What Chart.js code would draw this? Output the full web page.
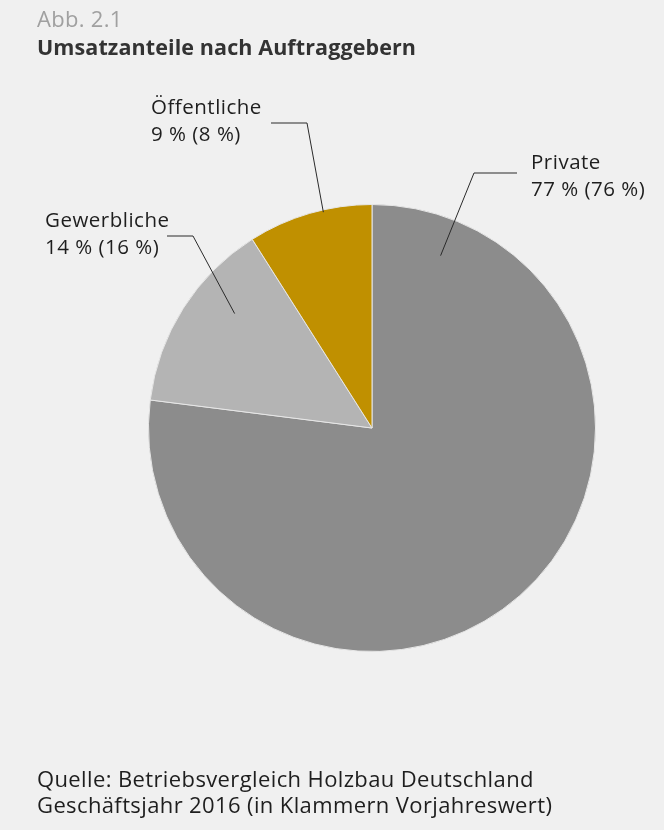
<!DOCTYPE html>
<html lang="de">
<head>
<meta charset="utf-8">
<script src="https://cdn.jsdelivr.net/npm/chart.js@4/dist/chart.umd.min.js"></script>
<style>
  html, body { margin: 0; padding: 0; background: #f0f0f0; }
  #wrap { width: 664px; height: 830px; overflow: hidden; }
</style>
</head>
<body>
<div id="wrap"><canvas id="pie" width="664" height="830"></canvas></div>
<script>
const categories = ['Private', 'Gewerbliche', 'Öffentliche'];
const shares2016 = [77, 14, 9];
const sharesPrev = [76, 16, 8];
const sliceColors = ['#8c8c8c', '#b4b4b4', '#c09000'];

const figureNo = 'Abb. 2.1';
const figureTitle = 'Umsatzanteile nach Auftraggebern';
const sourceLines = [
  'Quelle: Betriebsvergleich Holzbau Deutschland',
  'Geschäftsjahr 2016 (in Klammern Vorjahreswert)'
];

const FONT = "'Open Sans', sans-serif";

// leader lines: anchor on the slice (angle clockwise from 12 o'clock, fraction of radius),
// then elbow / line end / text baseline as offsets from the pie centre
const callouts = [
  { angle: 21.7,  frac: 0.83, elbow: [102, -255], end: [145, -255], text: [159, -259] },
  { angle: 309.8, frac: 0.80, elbow: [-179, -192], end: [-205, -192], text: [-327, -201] },
  { angle: 347.3, frac: 0.99, elbow: [-65, -305], end: [-101, -305], text: [-221, -314] }
];

function drawText(ctx, str, x, y, font, color, spacing) {
  ctx.font = font;
  ctx.fillStyle = color;
  ctx.letterSpacing = (spacing || 0) + 'px';
  ctx.fillText(str, x, y);
}

// heading and source note around the pie
const frameText = {
  id: 'frameText',
  afterDraw(chart) {
    const ctx = chart.ctx;
    ctx.save();
    ctx.textAlign = 'left';
    ctx.textBaseline = 'alphabetic';
    drawText(ctx, figureNo, 37, 27, '22px ' + FONT, '#a0a0a0', 0.3);
    drawText(ctx, figureTitle, 37, 55, 'bold 21.5px ' + FONT, '#333333', 0.1);
    sourceLines.forEach((line, i) => {
      drawText(ctx, line, 37, 787 + i * 26, '22px ' + FONT, '#1e1e1e', 0.38);
    });
    ctx.restore();
  }
};

const calloutPlugin = {
  id: 'callouts',
  afterDatasetsDraw(chart) {
    const ctx = chart.ctx;
    const arcs = chart.getDatasetMeta(0).data;
    ctx.save();
    arcs.forEach((arc, i) => {
      const c = callouts[i];
      const cx = arc.x, cy = arc.y, r = arc.outerRadius;
      const a = c.angle * Math.PI / 180;
      const ax = cx + Math.sin(a) * r * c.frac;
      const ay = cy - Math.cos(a) * r * c.frac;

      ctx.strokeStyle = '#2a2a2a';
      ctx.lineWidth = 1;
      ctx.beginPath();
      ctx.moveTo(ax, ay);
      ctx.lineTo(cx + c.elbow[0], cy + c.elbow[1]);
      ctx.lineTo(cx + c.end[0], cy + c.end[1]);
      ctx.stroke();

      ctx.textAlign = 'left';
      ctx.textBaseline = 'alphabetic';
      const tx = cx + c.text[0], ty = cy + c.text[1];
      drawText(ctx, categories[i], tx, ty, '20.5px ' + FONT, '#1e1e1e', 0.5);
      drawText(ctx, shares2016[i] + ' % (' + sharesPrev[i] + ' %)', tx, ty + 27, '20.5px ' + FONT, '#1e1e1e', 0.5);
    });
    ctx.restore();
  }
};

new Chart(document.getElementById('pie'), {
  type: 'pie',
  data: {
    labels: categories,
    datasets: [{
      data: shares2016,
      backgroundColor: sliceColors,
      borderColor: '#e6e6e6',
      borderWidth: 1
    }]
  },
  options: {
    responsive: false,
    animation: false,
    layout: { padding: { left: 148, right: 68, top: 204, bottom: 178 } },
    plugins: {
      legend: { display: false },
      tooltip: { enabled: false },
      title: { display: false }
    }
  },
  plugins: [calloutPlugin, frameText]
});
</script>
</body>
</html>
